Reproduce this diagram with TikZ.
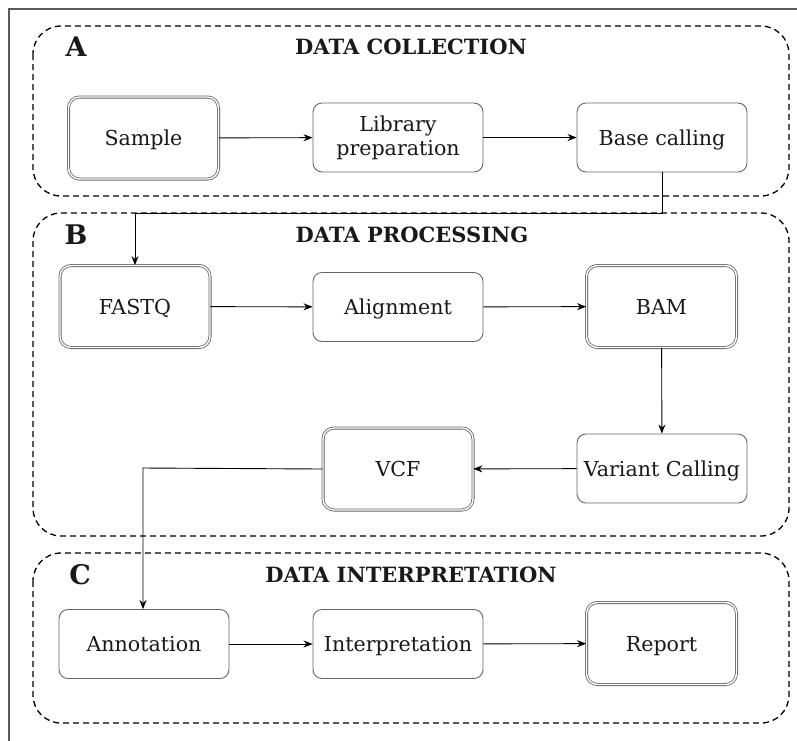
\documentclass[tikz,border=0pt]{standalone}
\usepackage{fontspec}
\setmainfont{DejaVu Serif}
\usetikzlibrary{arrows.meta}
\tikzset{
  box/.style={draw=black!60, line width=0.9pt, rounded corners=9pt, fill=white,
    minimum width=170pt, minimum height=69pt, inner sep=0pt, align=center,
    text height=15pt, text depth=0pt,
    font=\fontsize{20.6}{24}\selectfont, text=black!90},
  dbox/.style={draw=black!60, line width=0.8pt, double=white, double distance=1.4pt,
    rounded corners=11pt, fill=white, minimum width=150pt, minimum height=82pt,
    text height=15pt, text depth=0pt,
    inner sep=0pt, align=center, font=\fontsize{20.6}{24}\selectfont, text=black!90},
  group/.style={draw=black, line width=1.3pt, dash pattern=on 6pt off 4pt, rounded corners=28pt},
  gtitle/.style={font=\bfseries\fontsize{21}{24}\selectfont, text=black!90, inner sep=0pt},
  gletter/.style={font=\bfseries\fontsize{27}{30}\selectfont, text=black!90, inner sep=0pt},
  conn/.style={draw=black, line width=0.9pt, -{Stealth[length=9pt,width=7pt]}}
}
\begin{document}
\begin{tikzpicture}[x=1pt,y=-1pt]
\useasboundingbox (0,0) rectangle (797,740);
\fill[white] (0,0) rectangle (797,740);
\draw[black!65, line width=1.2pt] (9,745) -- (9,9) -- (800,9);
% groups
\draw[group] (33,26) rectangle (789,196);
\draw[group] (33,213) rectangle (789,536);
\draw[group] (33,553) rectangle (789,723);
\node[gletter] (la) at (76,47) {A};
\node[gletter] (lb) at (76,235) {B};
\node[gletter] (lc) at (80,575) {C};
\node[gtitle] (ta) at (411,46.5) {DATA COLLECTION};
\node[gtitle] (tb) at (412,234.5) {DATA PROCESSING};
\node[gtitle] (tc) at (411,574.5) {DATA INTERPRETATION};
% nodes
\node[dbox] (sample) at (143.5,138) {Sample};
\node[box, text height=, text depth=] (lib) at (398,137.5) {Library\\preparation};
\node[box] (base) at (662,137.5) {Base calling};
\node[dbox] (fastq) at (135,306.5) {FASTQ};
\node[box] (align) at (398,307) {Alignment};
\node[dbox] (bam) at (661.5,306.5) {BAM};
\node[box] (var) at (662,468.5) {Variant Calling};
\node[dbox] (vcf) at (398,469) {VCF};
\node[box] (annot) at (144,644) {Annotation};
\node[box] (interp) at (398,644) {Interpretation};
\node[dbox] (report) at (661.5,643.5) {Report};
% connectors
\coordinate (c1) at (662,213);
\coordinate (c2) at (135,213);
\coordinate (c3) at (143,468);
\draw[conn] (sample) -- (lib);
\draw[conn] (lib) -- (base);
\draw[conn] (base.south) -- (c1) -- (c2) -- (fastq.north);
\draw[conn] (fastq) -- (align);
\draw[conn] (align) -- (bam);
\draw[conn] (bam) -- (var);
\draw[conn] (var) -- (vcf);
\draw[conn] (vcf.west) -- (c3) -- (annot.north -| c3);
\draw[conn] (annot) -- (interp);
\draw[conn] (interp) -- (report);
\end{tikzpicture}
\end{document}
